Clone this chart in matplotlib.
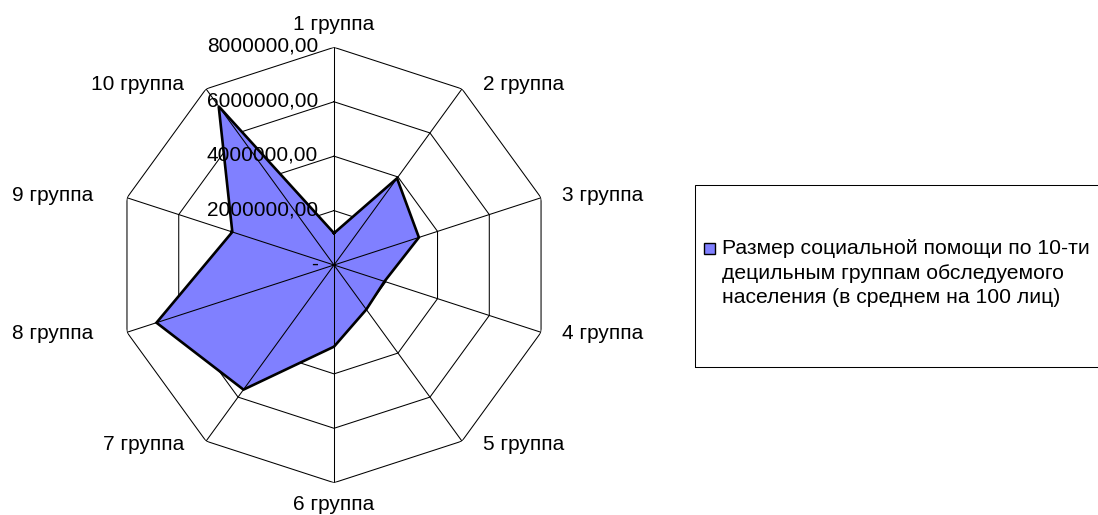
import numpy as np
import matplotlib.pyplot as plt
import matplotlib.transforms as mtransforms
from matplotlib.patches import Rectangle

plt.rcParams['font.family'] = ['Liberation Sans', 'DejaVu Sans']

groups = ["1 группа", "2 группа", "3 группа", "4 группа", "5 группа",
          "6 группа", "7 группа", "8 группа", "9 группа", "10 группа"]
values = [1170000, 3940000, 3280000, 1950000, 2020000,
          3000000, 5660000, 6860000, 3930000, 7210000]
ticks = [0, 2000000, 4000000, 6000000, 8000000]
tick_labels = ["-", "2000000,00", "4000000,00", "6000000,00", "8000000,00"]
series_name = ("Размер социальной помощи по 10-ти\n"
               "децильным группам обследуемого\n"
               "населения (в среднем на 100 лиц)")

fill_color = '#8080ff'
rmax = ticks[-1]
W, H = 1098, 515

fig = plt.figure(figsize=(W / 100, H / 100), dpi=100)
ax = fig.add_axes([0.1059, 0.0627, 0.3966, 0.8454], projection='polar')
ax.set_theta_offset(np.pi / 2)
ax.set_theta_direction(-1)
ax.set_ylim(0, rmax)
ax.grid(False)
ax.set_xticks([])
ax.set_yticks([])
ax.spines['polar'].set_visible(False)
ax.patch.set_visible(False)

angles = np.linspace(0, 2 * np.pi, len(groups), endpoint=False)
ang_c = np.append(angles, angles[0])
val_c = np.append(values, values[0])

# rings sit behind the series
for t in ticks[1:]:
    ax.plot(ang_c, [t] * len(ang_c), color='black', lw=0.75, zorder=1)

ax.fill(ang_c, val_c, color=fill_color, lw=0, zorder=2)

# spokes are drawn over the fill
for a in angles:
    ax.plot([a, a], [0, rmax], color='black', lw=0.75, zorder=3)

ax.plot(ang_c, val_c, color='black', lw=1.9, zorder=4, solid_joinstyle='miter')

# category labels, pixel gaps from the outer ring
pads = [(0, 23), (21, 4), (21, 2), (21, -1), (21, -3),
        (0, -22), (-22, -3), (-34, -1), (-34, 2), (-22, 4)]
for a, g, (dx, dy) in zip(angles, groups, pads):
    ha = 'left' if dx > 0 else ('right' if dx < 0 else 'center')
    tr = mtransforms.offset_copy(ax.transData, fig=fig, x=dx, y=dy, units='dots')
    ax.text(a, rmax, g, transform=tr, ha=ha, va='center', fontsize=15)

# value labels along the first axis
off = mtransforms.offset_copy(ax.transData, fig=fig, x=-16, y=1, units='dots')
for t, lab in zip(ticks, tick_labels):
    ax.text(0, t, lab, transform=off, ha='right', va='center', fontsize=15)

# legend drawn by hand: frame, marker, text
fig.patches.append(Rectangle((695 / W, 1 - 367 / H), 0.4, (367 - 185) / H,
                             transform=fig.transFigure, fill=False,
                             edgecolor='black', lw=0.75))
fig.patches.append(Rectangle((704 / W, 1 - 254 / H), 11 / W, 11 / H,
                             transform=fig.transFigure, facecolor=fill_color,
                             edgecolor='black', lw=1.0))
fig.text(722 / W, 1 - 239 / H, series_name, ha='left', va='top',
         fontsize=15.2, linespacing=1.38)

fig.savefig('out.png', dpi=100)
